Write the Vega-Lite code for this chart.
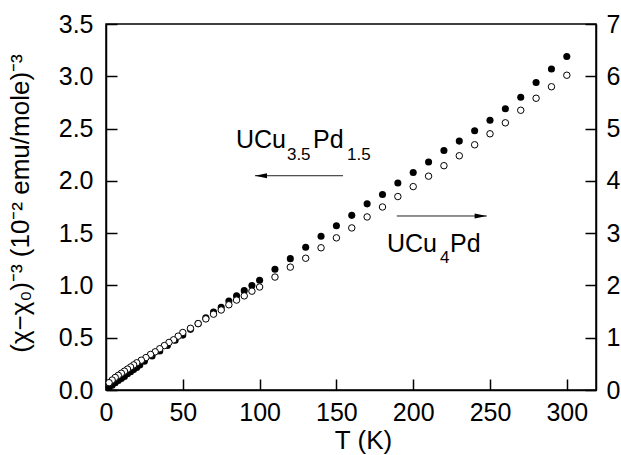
{
  "$schema": "https://vega.github.io/schema/vega-lite/v6.json",
  "width": 490,
  "height": 366,
  "autosize": {"type": "none"},
  "padding": {"left": 106, "top": 24, "right": 25, "bottom": 65},
  "background": "white",
  "config": {
    "view": {"stroke": "black", "strokeWidth": 1.5},
    "font": "Liberation Sans",
    "axis": {
      "domainColor": "black", "domainWidth": 1.5,
      "tickColor": "black", "tickWidth": 1.5, "tickSize": -11,
      "labelFontSize": 25, "labelColor": "black", "labelFont": "Liberation Sans",
      "titleFont": "Liberation Sans", "titleFontSize": 24, "titleFontWeight": "normal", "titleColor": "black",
      "grid": false, "labelFlush": false, "labelOverlap": false
    }
  },
  "datasets": {
    "filled": [
      {"T": 300, "v": 3.19}, {"T": 290, "v": 3.07}, {"T": 280, "v": 2.94}, {"T": 270, "v": 2.80},
      {"T": 260, "v": 2.69}, {"T": 250, "v": 2.58}, {"T": 240, "v": 2.48}, {"T": 230, "v": 2.38},
      {"T": 220, "v": 2.29}, {"T": 210, "v": 2.18}, {"T": 200, "v": 2.08}, {"T": 190, "v": 1.98},
      {"T": 180, "v": 1.87}, {"T": 170, "v": 1.78}, {"T": 160, "v": 1.67}, {"T": 150, "v": 1.57},
      {"T": 140, "v": 1.47}, {"T": 130, "v": 1.365}, {"T": 120, "v": 1.256}, {"T": 110, "v": 1.154},
      {"T": 100, "v": 1.05}, {"T": 95, "v": 1.00}, {"T": 90, "v": 0.95}, {"T": 85, "v": 0.90},
      {"T": 80, "v": 0.85}, {"T": 75, "v": 0.79}, {"T": 70, "v": 0.745}, {"T": 65, "v": 0.69},
      {"T": 60, "v": 0.635}, {"T": 55, "v": 0.58}, {"T": 50, "v": 0.525}, {"T": 45, "v": 0.475},
      {"T": 40, "v": 0.425}, {"T": 35, "v": 0.373}, {"T": 30, "v": 0.325}, {"T": 25, "v": 0.275},
      {"T": 22, "v": 0.24}, {"T": 20, "v": 0.215}, {"T": 18, "v": 0.195}, {"T": 16, "v": 0.175},
      {"T": 14, "v": 0.155}, {"T": 12, "v": 0.13}, {"T": 10, "v": 0.11}, {"T": 8, "v": 0.09},
      {"T": 6, "v": 0.07}, {"T": 4, "v": 0.045}, {"T": 2, "v": 0.025}
    ],
    "open": [
      {"T": 300, "w": 6.02}, {"T": 290, "w": 5.80}, {"T": 280, "w": 5.58}, {"T": 270, "w": 5.35},
      {"T": 260, "w": 5.11}, {"T": 250, "w": 4.90}, {"T": 240, "w": 4.69}, {"T": 230, "w": 4.48},
      {"T": 220, "w": 4.29}, {"T": 210, "w": 4.09}, {"T": 200, "w": 3.89}, {"T": 190, "w": 3.70},
      {"T": 180, "w": 3.50}, {"T": 170, "w": 3.31}, {"T": 160, "w": 3.10}, {"T": 150, "w": 2.91},
      {"T": 140, "w": 2.72}, {"T": 130, "w": 2.52}, {"T": 120, "w": 2.35}, {"T": 110, "w": 2.16},
      {"T": 100, "w": 1.97}, {"T": 95, "w": 1.89}, {"T": 90, "w": 1.80}, {"T": 85, "w": 1.72},
      {"T": 80, "w": 1.63}, {"T": 75, "w": 1.53}, {"T": 70, "w": 1.45}, {"T": 65, "w": 1.36},
      {"T": 60, "w": 1.27}, {"T": 55, "w": 1.18}, {"T": 50, "w": 1.10}, {"T": 47, "w": 1.03},
      {"T": 44, "w": 0.96}, {"T": 41, "w": 0.91}, {"T": 38, "w": 0.85}, {"T": 35, "w": 0.79},
      {"T": 32, "w": 0.73}, {"T": 29, "w": 0.68}, {"T": 26, "w": 0.62}, {"T": 23, "w": 0.57},
      {"T": 20, "w": 0.52}, {"T": 18, "w": 0.48}, {"T": 16, "w": 0.44}, {"T": 14, "w": 0.40},
      {"T": 12, "w": 0.36}, {"T": 10, "w": 0.32}, {"T": 8, "w": 0.28}, {"T": 6, "w": 0.24},
      {"T": 4, "w": 0.19}, {"T": 2, "w": 0.14}
    ],
    "arrows": [
      {"T": 97.0, "T2": 154.3, "v": 2.049},
      {"T": 189.3, "T2": 247.9, "v": 1.664}
    ],
    "heads": [
      {"T": 100.9, "v": 2.049, "dir": "L"},
      {"T": 243.9, "v": 1.664, "dir": "R"}
    ],
    "mainText": [
      {"T": 84.6, "v": 2.314, "label": "UCu"},
      {"T": 134.8, "v": 2.314, "label": "Pd"},
      {"T": 182.9, "v": 1.32, "label": "UCu"},
      {"T": 224.0, "v": 1.32, "label": "Pd"}
    ],
    "subText": [
      {"T": 117.8, "v": 2.2, "label": "3.5"},
      {"T": 156.9, "v": 2.2, "label": "1.5"},
      {"T": 217.4, "v": 1.214, "label": "4"}
    ]
  },
  "layer": [
    {
      "layer": [
        {
          "data": {"name": "filled"},
          "mark": {"type": "circle", "color": "black", "size": 50, "opacity": 1},
          "encoding": {
            "x": {
              "field": "T", "type": "quantitative",
              "scale": {"domain": [0, 319], "nice": false, "zero": false},
              "axis": {
                "values": [0, 50, 100, 150, 200, 250, 300],
                "title": "T (K)", "labelPadding": 21, "titleFontSize": 26,
                "titleX": 257, "titleY": 58, "titleAlign": "center", "titleBaseline": "alphabetic"
              }
            },
            "y": {
              "field": "v", "type": "quantitative",
              "scale": {"domain": [0, 3.5], "nice": false},
              "axis": {
                "orient": "left",
                "values": [0, 0.5, 1, 1.5, 2, 2.5, 3, 3.5],
                "format": ".1f",
                "title": "(χ−χ₀)⁻³ (10⁻² emu/mole)⁻³",
                "titleFontSize": 26,
                "labelPadding": 24,
                "titleX": -78, "titleY": 179, "titleAlign": "center", "titleBaseline": "alphabetic", "titleAngle": -90
              }
            }
          }
        },
        {
          "data": {"name": "arrows"},
          "mark": {"type": "rule", "color": "#222222", "strokeWidth": 1},
          "encoding": {
            "x": {"field": "T", "type": "quantitative"},
            "x2": {"field": "T2"},
            "y": {"field": "v", "type": "quantitative"}
          }
        },
        {
          "data": {"name": "heads"},
          "mark": {"type": "point", "filled": true, "color": "black", "opacity": 1, "size": 144},
          "encoding": {
            "x": {"field": "T", "type": "quantitative"},
            "y": {"field": "v", "type": "quantitative"},
            "shape": {
              "field": "dir", "type": "nominal", "legend": null,
              "scale": {"domain": ["L", "R"], "range": ["M -1 0 L 1 -0.4 L 1 0.4 Z", "M 1 0 L -1 -0.4 L -1 0.4 Z"]}
            }
          }
        },
        {
          "data": {"name": "mainText"},
          "mark": {"type": "text", "align": "left", "baseline": "alphabetic", "fontSize": 25, "font": "Liberation Sans", "color": "black"},
          "encoding": {
            "x": {"field": "T", "type": "quantitative"},
            "y": {"field": "v", "type": "quantitative"},
            "text": {"field": "label"}
          }
        },
        {
          "data": {"name": "subText"},
          "mark": {"type": "text", "align": "left", "baseline": "alphabetic", "fontSize": 17, "font": "Liberation Sans", "color": "black"},
          "encoding": {
            "x": {"field": "T", "type": "quantitative"},
            "y": {"field": "v", "type": "quantitative"},
            "text": {"field": "label"}
          }
        }
      ]
    },
    {
      "data": {"name": "open"},
      "mark": {"type": "circle", "fill": "white", "stroke": "black", "strokeWidth": 1, "size": 42, "opacity": 1},
      "encoding": {
        "x": {"field": "T", "type": "quantitative"},
        "y": {
          "field": "w", "type": "quantitative",
          "scale": {"domain": [0, 7], "nice": false},
          "axis": {"orient": "right", "values": [0, 1, 2, 3, 4, 5, 6, 7], "format": "d", "title": null, "labelPadding": 21}
        }
      }
    }
  ],
  "resolve": {"scale": {"y": "independent"}}
}
